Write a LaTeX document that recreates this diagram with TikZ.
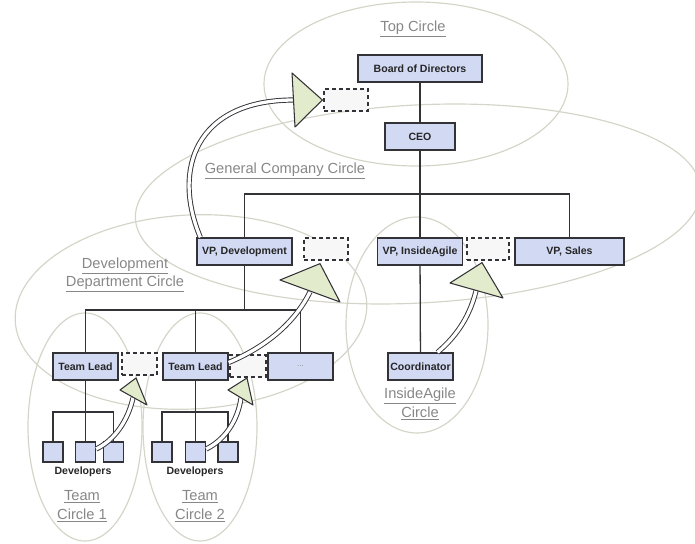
\documentclass[tikz,border=0pt]{standalone}
\usepackage{fontspec}
\setmainfont{Liberation Sans}
\usetikzlibrary{calc, positioning}
\definecolor{boxfill}{RGB}{210,217,243}
\definecolor{boxedge}{RGB}{50,50,55}
\definecolor{ringgray}{RGB}{212,212,200}
\definecolor{labelgray}{RGB}{135,135,135}
\definecolor{headgreen}{RGB}{226,235,204}
\tikzset{
    org box/.style    = {draw = boxedge, line width = 1.1pt, fill = boxfill, inner sep = 0pt, minimum height = 0.81cm, font = \fontsize{9}{10}\selectfont\bfseries, text = black!85},
    empty slot/.style = {draw = boxedge, dashed, line width = 1.1pt, fill = black!3, inner sep = 0pt, minimum height = 0.66cm},
    dev box/.style    = {org box, minimum width = 0.6cm, minimum height = 0.6cm},
    ring/.style       = {draw = ringgray, line width = 1pt},
    ring label/.style = {text = labelgray, font = \fontsize{12.5}{16}\selectfont, align = center},
    tree line/.style  = {draw = boxedge, line width = 1.1pt},
    move shaft/.style = {draw = boxedge, line width = 0.8pt, double = white, double distance = 2.8pt},
    move head/.style  = {draw = boxedge, line width = 0.9pt, fill = headgreen, line join = round}
}

\begin{document}
\begin{tikzpicture}[x=0.03cm, y=-0.03cm]
		\useasboundingbox (0,0) rectangle (695,544);

		% the circles
		\path[ring] (416,84) ellipse (152 and 82);
		\path[ring, rotate around={3:(418,204)}] (418,204) ellipse (283 and 99);
		\path[ring, rotate around={3:(191,312)}] (191,312) ellipse (176 and 97);
		\path[ring] (85,427) ellipse (57 and 114);
		\path[ring] (200,427) ellipse (57 and 114);
		\path[ring] (417,325) ellipse (71 and 108);

		\node[ring label] (toplabel) at (413,29) {\underline{Top Circle}};
		\node[ring label] (genlabel) at (285,171) {\underline{General Company Circle}};
		\node[ring label] (deptlabel) at (125,275) {\underline{Development}\\\underline{Department Circle}};
		\node[ring label] (ialabel) at (420,404) {\underline{InsideAgile}\\\underline{Circle}};
		\node[ring label] (team1label) at (82,506) {\underline{Team}\\\underline{Circle 1}};
		\node[ring label] (team2label) at (200,506) {\underline{Team}\\\underline{Circle 2}};

		% roles
		\node[org box, minimum width=3.72cm] (board) at (420,68.5) {Board of Directors};
		\node[org box, minimum width=2.1cm] (ceo) at (420,136.5) {CEO};
		\node[empty slot, minimum width=1.32cm] (topslot) at (346,100) {};
		\node[org box, minimum width=2.85cm] (vpdev) at (244.5,251.5) {VP, Development};
		\node[empty slot, minimum width=1.32cm] (devslot) at (326,249) {};
		\node[org box, minimum width=2.55cm] (vpia) at (420,251.5) {VP, InsideAgile};
		\node[empty slot, minimum width=1.26cm] (iaslot) at (488,249) {};
		\node[org box, minimum width=3.27cm] (vpsales) at (569.5,251.5) {VP, Sales};
		\node[org box, minimum width=1.95cm] (coord) at (420.5,366.5) {Coordinator};
		\node[org box, minimum width=1.95cm] (lead1) at (85.5,366.5) {Team Lead};
		\node[empty slot, minimum width=1.05cm] (leadslot1) at (139.5,364) {};
		\node[org box, minimum width=1.95cm] (lead2) at (195.5,366.5) {Team Lead};
		\node[empty slot, minimum width=1.08cm] (leadslot2) at (248,366) {};
		\node[org box, minimum width=1.95cm, font=\fontsize{7}{8}\selectfont, text=black!45] (more) at (300.5,366.5) {...};

		\node[dev box] (dev11) at (53,452) {};
		\node[dev box] (dev12) at (85.5,452) {};
		\node[dev box] (dev13) at (113.5,452) {};
		\node[dev box] (dev21) at (162,452) {};
		\node[dev box] (dev22) at (195.5,452) {};
		\node[dev box] (dev23) at (228,452) {};
		\node[font=\fontsize{9}{10}\selectfont\bfseries, text=black!85] (devs1) at (83,472) {Developers};
		\node[font=\fontsize{9}{10}\selectfont\bfseries, text=black!85] (devs2) at (195,472) {Developers};

		% reporting lines
		\coordinate (topbus) at (420,194);
		\coordinate (devbus) at (244.5,310);
		\coordinate (bus1) at (85.5,412);
		\coordinate (bus2) at (195.5,412);
		\draw[tree line] (board) -- (ceo);
		\draw[tree line] (ceo) -- (vpia);
		\draw[tree line] (vpdev.north) |- (topbus) -| (vpsales.north);
		\draw[tree line] (vpia) -- (coord);
		\draw[tree line] (vpdev) -- (devbus);
		\draw[tree line] (lead1.north) |- (devbus) -| (more.north);
		\draw[tree line] (lead2.north) -- (lead2.north |- devbus);
		\draw[tree line] (lead1) -- (dev12);
		\draw[tree line] (dev11.north) |- (bus1) -| (dev13.north);
		\draw[tree line] (lead2) -- (dev22);
		\draw[tree line] (dev21.north) |- (bus2) -| (dev23.north);

		% moves up into the next circle
		\draw[move shaft] ($(vpdev.north west)+(4,0)$) .. controls (172,170) and (195,100) .. (294,100);
		\path[move head] (292,73) -- ($(topslot.west)+(-1,0)$) -- (295,127) -- cycle;
		\draw[move shaft] ($(lead2.east)+(0,-4)$) .. controls (270,345) and (296,320) .. (310,292);
		\path[move head] (280,280) -- ($(devslot.south)+(-6,3)$) -- (340,302) -- cycle;
		\draw[move shaft] ($(coord.north)+(17,0)$) .. controls (458,335) and (470,315) .. (476,291);
		\path[move head] (450,283) -- ($(iaslot.south)+(-6,2)$) -- (503,298) -- cycle;
		\draw[move shaft] ($(dev12.east)+(0,-3)$) .. controls (115,440) and (128,420) .. (133,398);
		\path[move head] (120,390) -- (136,378) -- (147,405) -- cycle;
		\draw[move shaft] ($(dev22.east)+(0,-3)$) .. controls (225,440) and (238,420) .. (241,398);
		\path[move head] (228,390) -- (247,378) -- (253,405) -- cycle;
	\end{tikzpicture}
\end{document}
